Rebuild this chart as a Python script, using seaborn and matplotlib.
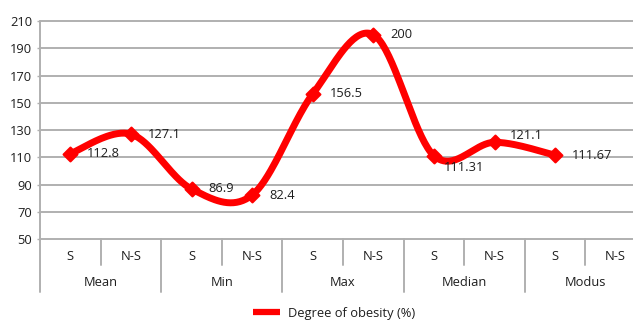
import numpy as np
import pandas as pd
import matplotlib
matplotlib.use("Agg")
import matplotlib.pyplot as plt
import matplotlib.transforms as mtransforms
from matplotlib.lines import Line2D
import seaborn as sns

# ---- data -------------------------------------------------------------
groups = ["Mean", "Min", "Max", "Median", "Modus"]
subgroups = ["S", "N-S"]
values = [112.8, 127.1, 86.9, 82.4, 156.5, 200.0, 111.31, 121.1, 111.67, np.nan]
value_labels = ["112.8", "127.1", "86.9", "82.4", "156.5", "200", "111.31", "121.1", "111.67", ""]
series_name = "Degree of obesity (%)"
y_ticks = [50, 70, 90, 110, 130, 150, 170, 190, 210]

# ---- style ------------------------------------------------------------
sns.set_theme(style="white")
plt.rcParams["font.family"] = ["Open Sans", "DejaVu Sans"]
TEXT = "#1e1e1e"
GRID = "#b0b0b0"
RED = "#ff0000"
FS = 9.3

W, H, DPI = 633, 322, 100
fig = plt.figure(figsize=(W / DPI, H / DPI), dpi=DPI)
ax_left, ax_right, ax_top, ax_bottom = 40, 646, 21, 239.3
ax = fig.add_axes([ax_left / W, (H - ax_bottom) / H,
                   (ax_right - ax_left) / W, (ax_bottom - ax_top) / H])
ax_h_px = ax_bottom - ax_top

n_cat = len(groups) * len(subgroups)
df = pd.DataFrame({
    "pos": np.arange(n_cat),
    "group": np.repeat(groups, len(subgroups)),
    "sub": subgroups * len(groups),
    "value": values,
})
pts = df.dropna(subset=["value"])


def smooth_curve(x, y, steps=40):
    """Catmull-Rom style Bezier smoothing through the given points."""
    x = np.asarray(x, float)
    y = np.asarray(y, float)
    P = np.column_stack([x, y])
    P = np.vstack([P[0], P, P[-1]])
    out = []
    t = np.linspace(0, 1, steps)
    for i in range(1, len(P) - 2):
        p0, p1, p2, p3 = P[i - 1], P[i], P[i + 1], P[i + 2]
        c1 = p1 + (p2 - p0) / 6.0
        c2 = p2 - (p3 - p1) / 6.0
        seg = ((1 - t) ** 3)[:, None] * p1 + (3 * (1 - t) ** 2 * t)[:, None] * c1 \
            + (3 * (1 - t) * t ** 2)[:, None] * c2 + (t ** 3)[:, None] * p2
        out.append(seg if i == 1 else seg[1:])
    out = np.vstack(out)
    return out[:, 0], out[:, 1]


sx, sy = smooth_curve(pts["pos"], pts["value"])
curve = pd.DataFrame({"pos": sx, "value": sy})
sns.lineplot(data=curve, x="pos", y="value", sort=False, color=RED, lw=5,
             ax=ax, zorder=3, legend=False)
sns.scatterplot(data=pts, x="pos", y="value", marker="D", s=50, color=RED,
                edgecolor=RED, linewidth=1.5, ax=ax, zorder=4, legend=False)

# value labels (pixel offsets from each point)
label_offsets = {6: (10, -12), 7: (15, 7)}
for i, row in pts.iterrows():
    dx, dy = label_offsets.get(i, (17, 0))
    ax.annotate(value_labels[i], (row["pos"], row["value"]), xytext=(dx, dy),
                textcoords="offset pixels", ha="left", va="center",
                fontsize=FS, color=TEXT, zorder=5)

# axes limits and y grid
ax.set_xlim(-0.5, n_cat - 0.5)
ax.set_ylim(y_ticks[0], y_ticks[-1])
ax.set_yticks(y_ticks)
ax.set_yticklabels([str(v) for v in y_ticks], fontsize=FS, color=TEXT)
ax.tick_params(axis="y", length=2.5, width=1.0, color=GRID, pad=3, left=True)
ax.set_xticks([])
ax.set_xlabel("")
ax.set_ylabel("")
for sp in ax.spines.values():
    sp.set_visible(False)
for v in y_ticks:
    ax.axhline(v, color=GRID, lw=1.4, zorder=1, clip_on=False)

# category axis: separators and two-level labels
bt = mtransforms.blended_transform_factory(ax.transData, ax.transAxes)
short = 26 / ax_h_px
long_ = 52.5 / ax_h_px
ax.plot([-0.5, -0.5], [1, -long_], transform=bt, color=GRID, lw=1.4,
        clip_on=False, zorder=1)
for b in range(1, n_cat + 1):
    depth = long_ if b % len(subgroups) == 0 else short
    ax.plot([b - 0.5, b - 0.5], [0, -depth], transform=bt, color=GRID,
            lw=1.4, clip_on=False, zorder=1)
for _, row in df.iterrows():
    ax.text(row["pos"], -17.5 / ax_h_px, row["sub"], transform=bt,
            ha="center", va="center", fontsize=FS, color=TEXT)
for gi, g in enumerate(groups):
    cx = gi * len(subgroups) + (len(subgroups) - 1) / 2
    ax.text(cx, -43.5 / ax_h_px, g, transform=bt,
            ha="center", va="center", fontsize=FS, color=TEXT)

# legend
handle = Line2D([], [], color=RED, lw=4.5, solid_capstyle="butt")
fig.legend(handles=[handle], labels=[series_name], loc="center",
           bbox_to_anchor=(334 / W, 8.5 / H), frameon=False, fontsize=FS,
           handlelength=2.1, handletextpad=0.62, labelcolor=TEXT)

fig.savefig("out.png", dpi=DPI)
